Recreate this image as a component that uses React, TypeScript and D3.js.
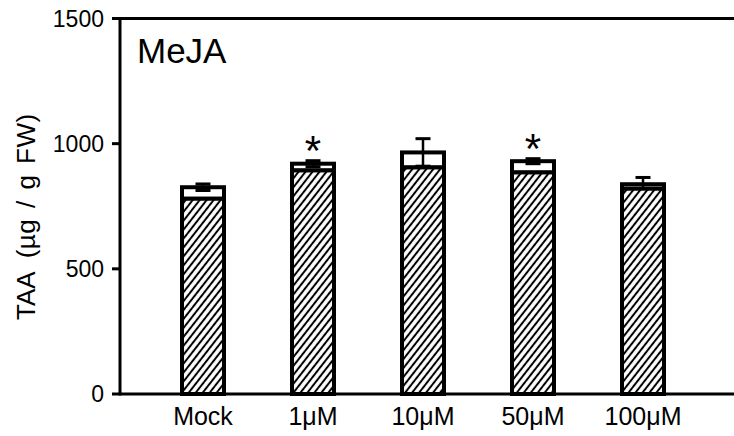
import React from "react";
import * as d3 from "d3";

// Treatments on the x axis
const categories = ["Mock", "1\u03BCM", "10\u03BCM", "50\u03BCM", "100\u03BCM"];
// Lower (hatched) component of each bar
const lowerValues = [780, 893, 905, 885, 820];
// Bar totals (hatched + open part)
const totalValues = [826, 920, 965, 930, 838];
// Error of the totals
const errors = [13, 12, 55, 10, 27];
// Significance marks
const significant = [false, true, false, true, false];
const yTicks = [0, 500, 1000, 1500];

const W = 734;
const H = 436;
const axisX = 120;
const y0 = 394;
const yTop = 18.5;

export default function App() {
  const y = d3.scaleLinear().domain([0, 1500]).range([y0, yTop]);
  const x = d3.scaleBand<string>().domain(categories).range([148, 698]).padding(0);
  const barW = 42;
  const font = "'Liberation Sans', Arial, Helvetica, sans-serif";

  return (
    <svg
      width={W}
      height={H}
      style={{ position: "absolute", left: 0, top: 0, display: "block", background: "#fff" }}
      fontFamily={font}
    >
      <defs>
        <pattern id="hatch" width="5.5" height="5.5" patternUnits="userSpaceOnUse" patternTransform="rotate(38)">
          <rect width="5.5" height="5.5" fill="#fff" />
          <line x1="0" y1="0" x2="0" y2="5.5" stroke="#000" strokeWidth="2" />
          <line x1="5.5" y1="0" x2="5.5" y2="5.5" stroke="#000" strokeWidth="2" />
        </pattern>
      </defs>

      {/* bars */}
      {categories.map((c, i) => {
        const cx = (x(c) as number) + x.bandwidth() / 2;
        const left = cx - barW / 2;
        const total = totalValues[i];
        const lower = lowerValues[i];
        const err = errors[i];
        return (
          <g key={c}>
            <rect x={left} y={y(total)} width={barW} height={y(lower) - y(total)} fill="#fff" stroke="#000" strokeWidth={4} />
            <line x1={cx} x2={cx} y1={y(total - err)} y2={y(total + err)} stroke="#000" strokeWidth={2.5} />
            <line x1={cx - 7.5} x2={cx + 7.5} y1={y(total + err)} y2={y(total + err)} stroke="#000" strokeWidth={3} />
            <line x1={cx - 7.5} x2={cx + 7.5} y1={y(total - err)} y2={y(total - err)} stroke="#000" strokeWidth={3} />
            <rect x={left} y={y(lower)} width={barW} height={y(0) - y(lower)} fill="url(#hatch)" stroke="#000" strokeWidth={4} />
            {significant[i] && (
              <text x={cx} y={y(total + err) + 4} textAnchor="middle" fontSize={42} fill="#000">
                *
              </text>
            )}
          </g>
        );
      })}

      {/* axes and frame */}
      <line x1={axisX} x2={axisX} y1={yTop - 1.5} y2={y0 + 1.5} stroke="#000" strokeWidth={3} />
      <line x1={axisX} x2={W} y1={y0} y2={y0} stroke="#000" strokeWidth={3} />
      <line x1={axisX - 1.5} x2={W} y1={yTop} y2={yTop} stroke="#000" strokeWidth={3} />

      {yTicks.map((t) => (
        <g key={t}>
          <line x1={axisX - 8} x2={axisX} y1={y(t)} y2={y(t)} stroke="#000" strokeWidth={3} />
          <text x={axisX - 16} y={y(t)} dy="0.36em" textAnchor="end" fontSize={23} fill="#000">
            {t}
          </text>
        </g>
      ))}

      {categories.map((c) => (
        <text key={c} x={(x(c) as number) + x.bandwidth() / 2} y={425} textAnchor="middle" fontSize={25} fill="#000">
          {c}
        </text>
      ))}

      <text transform="translate(35,320) rotate(-90)" textAnchor="start" fontSize={26} fill="#000">
        <tspan>TAA</tspan>
        <tspan dx={13} letterSpacing={0.5} wordSpacing={3}>
          (µg / g FW)
        </tspan>
      </text>

      <text x={137} y={63} fontSize={35} fill="#000">
        MeJA
      </text>
    </svg>
  );
}
